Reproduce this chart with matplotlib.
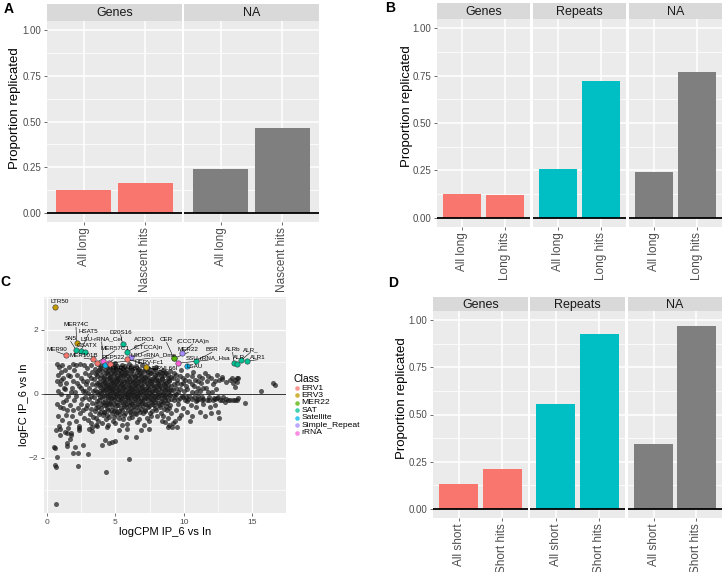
import matplotlib
matplotlib.use("Agg")
import matplotlib.pyplot as plt
from matplotlib.lines import Line2D
import numpy as np

plt.rcParams['font.family'] = ['Liberation Sans', 'DejaVu Sans']

# ---------------- data ----------------
facets_A = ["Genes", "NA"]
labels_A = ["All long", "Nascent hits"]
values_A = {"Genes": [0.126, 0.164], "NA": [0.242, 0.467]}

facets_B = ["Genes", "Repeats", "NA"]
labels_B = ["All long", "Long hits"]
values_B = {"Genes": [0.126, 0.117], "Repeats": [0.255, 0.723], "NA": [0.243, 0.770]}

facets_D = ["Genes", "Repeats", "NA"]
labels_D = ["All short", "Short hits"]
values_D = {"Genes": [0.130, 0.210], "Repeats": [0.556, 0.926], "NA": [0.342, 0.972]}

facet_colors = {"Genes": "#F8766D", "Repeats": "#00BFC4", "NA": "#7F7F7F"}

# scatter (panel C): background repeats (logCPM, logFC)
bg_points = [
    # left sparse region
    (0.7,0.95),(0.9,0.85),(1.1,0.9),(0.8,0.6),(1.0,0.7),(1.3,0.75),(1.6,0.85),(1.9,0.95),(2.1,0.9),(2.4,0.95),(2.7,0.9),
    (0.75,0.4),(0.95,0.3),(1.2,0.5),(1.4,0.35),(1.7,0.55),(1.9,0.4),(2.2,0.6),(2.5,0.5),(2.8,0.65),
    (0.8,0.1),(1.05,0.0),(1.3,0.15),(1.55,-0.05),(1.8,0.2),(2.05,0.05),(2.3,0.25),(2.6,0.1),(2.85,0.3),
    (0.7,-0.3),(0.95,-0.4),(1.2,-0.25),(1.45,-0.5),(1.7,-0.35),(2.0,-0.2),(2.25,-0.45),(2.5,-0.3),(2.75,-0.1),
    (0.8,-0.7),(1.1,-0.8),(1.35,-0.65),(1.6,-0.9),(1.85,-0.7),(2.1,-0.85),(2.4,-0.6),(2.7,-0.75),
    (0.9,-1.0),(1.5,-1.05),(2.3,-1.0),
    (1.0,0.45),(1.25,0.2),(1.5,0.6),(1.75,0.05),(2.0,0.75),(2.2,0.35),(2.45,0.2),(2.65,0.4),(2.55,-0.15),
    (2.15,-0.05),(1.4,-0.2),(1.9,-0.5),(2.6,-0.5),(2.85,-0.45),(2.8,0.1),(1.15,-0.45),
    # lower outliers
    (0.63,-3.44),(0.6,-2.22),(0.62,-2.28),(0.53,-1.65),(0.56,-1.7),(0.75,-1.96),(2.29,-2.25),(1.9,-1.83),
    (2.26,-1.83),(2.07,-1.67),(2.63,-1.61),(2.97,-1.87),(1.44,-1.63),(1.48,-1.52),(1.68,-1.42),(4.28,-2.45),
    (5.96,-2.04),(3.99,-1.58),(4.2,-1.44),(4.53,-1.54),(4.72,-1.5),(4.99,-1.46),(5.74,-1.33),(6.47,-1.33),
    (0.93,-1.27),(0.63,-1.12),(0.95,-1.1),(1.29,-1.18),(1.48,-1.21),(1.78,-1.23),(1.78,-1.28),(2.34,-1.07),
    (2.34,-1.12),(3.07,-1.1),(3.26,-1.02),(3.26,-1.15),(3.55,-0.98),(3.67,-1.0),(4.4,-1.04),(5.26,-1.12),
    (5.5,-0.98),(5.86,-1.1),(6.84,-1.12),(7.08,-0.97),(7.45,-1.1),(8.4,-0.86),(8.6,-0.89),(8.93,-0.97),
    (9.1,-1.04),(9.17,-0.92),(9.34,-0.86),(9.5,-1.02),(8.85,-1.04),
    # dense core
    (2.95,0.82),(3.05,0.58),(2.9,0.41),(3.1,0.18),(2.98,0.04),(3.07,-0.17),(2.93,-0.36),(3.12,-0.62),(3.0,-0.81),
    (3.22,0.91),(3.3,0.68),(3.18,0.49),(3.27,0.31),(3.33,0.08),(3.2,-0.06),(3.28,-0.27),(3.24,-0.46),(3.35,-0.71),(3.21,-0.9),
    (3.48,0.79),(3.55,0.63),(3.44,0.46),(3.58,0.27),(3.5,0.13),(3.42,-0.11),(3.56,-0.32),(3.47,-0.52),(3.6,-0.76),
    (3.72,0.94),(3.8,0.74),(3.68,0.56),(3.77,0.38),(3.84,0.21),(3.7,0.01),(3.79,-0.19),(3.74,-0.41),(3.83,-0.62),(3.71,-0.86),
    (3.96,0.86),(4.05,0.71),(3.92,0.6),(4.1,0.44),(3.98,0.31),(4.07,0.16),(3.94,0.04),(4.03,-0.11),(4.12,-0.26),(3.97,-0.44),(4.06,-0.66),(3.99,-0.92),
    (4.22,0.79),(4.3,0.66),(4.18,0.51),(4.27,0.36),(4.34,0.24),(4.2,0.11),(4.29,-0.04),(4.24,-0.21),(4.33,-0.36),(4.19,-0.56),(4.28,-0.79),
    (4.47,0.91),(4.55,0.74),(4.43,0.61),(4.52,0.49),(4.58,0.41),(4.45,0.29),(4.54,0.19),(4.49,0.09),(4.57,-0.01),(4.44,-0.16),(4.53,-0.31),(4.48,-0.49),(4.56,-0.71),(4.46,-0.96),
    (4.72,0.84),(4.8,0.71),(4.68,0.56),(4.77,0.44),(4.83,0.36),(4.7,0.24),(4.79,0.14),(4.74,0.06),(4.82,-0.09),(4.69,-0.21),(4.78,-0.39),(4.73,-0.61),(4.81,-0.84),
    (4.97,0.96),(5.05,0.79),(4.93,0.66),(5.02,0.51),(5.08,0.39),(4.95,0.31),(5.04,0.21),(4.99,0.09),(5.07,0.01),(4.94,-0.11),(5.03,-0.24),(4.98,-0.46),(5.06,-0.64),(4.96,-0.91),
    (5.22,0.76),(5.3,0.59),(5.18,0.49),(5.27,0.36),(5.33,0.24),(5.2,0.16),(5.29,0.04),(5.24,-0.06),(5.32,-0.19),(5.19,-0.36),(5.28,-0.54),(5.23,-0.76),
    (5.47,0.89),(5.55,0.81),(5.43,0.64),(5.52,0.56),(5.58,0.44),(5.45,0.31),(5.54,0.19),(5.49,0.11),(5.57,-0.01),(5.44,-0.14),(5.53,-0.31),(5.48,-0.51),(5.56,-0.79),
    (5.72,0.86),(5.8,0.69),(5.68,0.61),(5.77,0.46),(5.83,0.34),(5.7,0.26),(5.79,0.11),(5.74,0.01),(5.82,-0.11),(5.69,-0.24),(5.78,-0.41),(5.73,-0.59),(5.81,-0.94),
    (5.97,0.94),(6.05,0.81),(5.93,0.64),(6.02,0.51),(6.08,0.39),(5.95,0.29),(6.04,0.21),(5.99,0.09),(6.07,-0.01),(5.94,-0.09),(6.03,-0.21),(5.98,-0.34),(6.06,-0.56),(5.96,-0.74),
    (6.22,0.74),(6.3,0.61),(6.18,0.44),(6.27,0.36),(6.33,0.24),(6.2,0.14),(6.29,0.06),(6.24,-0.06),(6.32,-0.14),(6.19,-0.31),(6.28,-0.49),(6.23,-0.71),
    (6.47,0.86),(6.55,0.69),(6.43,0.56),(6.52,0.44),(6.58,0.31),(6.45,0.19),(6.54,0.11),(6.49,0.01),(6.57,-0.11),(6.44,-0.24),(6.53,-0.41),(6.48,-0.64),(6.56,-0.89),
    (6.72,0.79),(6.8,0.66),(6.68,0.51),(6.77,0.39),(6.83,0.29),(6.7,0.16),(6.79,0.04),(6.74,-0.04),(6.82,-0.21),(6.69,-0.34),(6.78,-0.56),(6.73,-0.79),
    (6.97,0.91),(7.05,0.71),(6.93,0.59),(7.02,0.46),(7.08,0.34),(6.95,0.24),(7.04,0.11),(6.99,0.01),(7.07,-0.09),(6.94,-0.21),(7.03,-0.39),(6.98,-0.61),
    (7.22,0.76),(7.3,0.59),(7.18,0.49),(7.27,0.34),(7.33,0.21),(7.2,0.09),(7.29,-0.06),(7.24,-0.14),(7.32,-0.31),(7.19,-0.49),(7.28,-0.76),
    (7.47,0.79),(7.55,0.64),(7.43,0.51),(7.52,0.39),(7.58,0.26),(7.45,0.14),(7.54,0.04),(7.49,-0.09),(7.57,-0.26),(7.44,-0.39),(7.53,-0.61),(7.48,-0.86),
    (7.72,0.71),(7.8,0.54),(7.68,0.41),(7.77,0.29),(7.83,0.19),(7.7,0.06),(7.79,-0.06),(7.74,-0.19),(7.82,-0.36),(7.69,-0.54),
    (7.97,0.84),(8.05,0.66),(7.93,0.49),(8.02,0.36),(8.08,0.24),(7.95,0.11),(8.04,-0.01),(7.99,-0.16),(8.07,-0.29),(7.94,-0.51),(8.03,-0.69),
    (8.22,0.69),(8.3,0.56),(8.18,0.39),(8.27,0.26),(8.33,0.09),(8.2,-0.04),(8.29,-0.21),(8.24,-0.41),(8.32,-0.59),
    (8.47,0.76),(8.55,0.59),(8.43,0.46),(8.52,0.31),(8.58,0.14),(8.45,0.04),(8.54,-0.11),(8.49,-0.24),(8.57,-0.46),(8.44,-0.69),
    (8.72,0.64),(8.8,0.51),(8.68,0.34),(8.77,0.19),(8.83,0.06),(8.7,-0.09),(8.79,-0.29),(8.74,-0.49),(8.82,-0.74),
    (8.97,0.71),(9.05,0.54),(8.93,0.39),(9.02,0.24),(9.08,0.11),(8.95,-0.04),(9.04,-0.16),(8.99,-0.36),(9.07,-0.61),
    # core, second layer
    (3.62,0.7),(3.65,0.35),(3.63,0.05),(3.66,-0.22),(3.61,-0.45),
    (3.88,0.82),(3.9,0.5),(3.86,0.28),(3.89,0.1),(3.87,-0.08),(3.91,-0.3),(3.85,-0.55),
    (4.14,0.9),(4.15,0.57),(4.13,0.38),(4.16,0.22),(4.11,0.08),(4.15,-0.06),(4.14,-0.35),(4.13,-0.55),
    (4.38,0.84),(4.4,0.7),(4.37,0.46),(4.41,0.32),(4.36,0.17),(4.39,0.02),(4.42,-0.1),(4.38,-0.28),(4.4,-0.45),(4.37,-0.65),
    (4.62,0.8),(4.65,0.66),(4.61,0.52),(4.64,0.34),(4.63,0.22),(4.66,0.12),(4.6,-0.05),(4.64,-0.14),(4.62,-0.27),(4.65,-0.5),
    (4.87,0.9),(4.89,0.76),(4.86,0.62),(4.9,0.48),(4.88,0.3),(4.85,0.18),(4.91,0.02),(4.87,-0.16),(4.89,-0.3),(4.86,-0.52),(4.9,-0.72),
    (5.12,0.86),(5.15,0.7),(5.11,0.56),(5.14,0.44),(5.13,0.27),(5.16,0.13),(5.12,-0.02),(5.15,-0.15),(5.11,-0.33),(5.14,-0.55),
    (5.37,0.84),(5.39,0.68),(5.36,0.53),(5.4,0.4),(5.38,0.28),(5.35,0.08),(5.41,-0.1),(5.37,-0.26),(5.39,-0.44),(5.36,-0.64),
    (5.62,0.75),(5.64,0.6),(5.61,0.38),(5.65,0.22),(5.63,0.05),(5.6,-0.07),(5.66,-0.2),(5.62,-0.38),(5.64,-0.66),
    (5.87,0.78),(5.89,0.55),(5.86,0.4),(5.9,0.19),(5.88,0.06),(5.85,-0.04),(5.91,-0.17),(5.87,-0.32),(5.89,-0.5),
    (6.12,0.88),(6.14,0.72),(6.11,0.56),(6.15,0.32),(6.13,0.16),(6.1,0.03),(6.16,-0.13),(6.12,-0.27),(6.14,-0.44),(6.11,-0.63),
    (6.37,0.8),(6.39,0.52),(6.36,0.4),(6.4,0.27),(6.38,0.09),(6.35,-0.02),(6.41,-0.2),(6.37,-0.37),(6.39,-0.58),
    (6.62,0.75),(6.64,0.6),(6.61,0.37),(6.65,0.24),(6.63,0.07),(6.6,-0.07),(6.66,-0.17),(6.62,-0.32),(6.64,-0.5),
    (6.87,0.72),(6.89,0.56),(6.86,0.44),(6.9,0.2),(6.88,0.08),(6.85,-0.12),(6.91,-0.27),(6.87,-0.46),
    (7.12,0.8),(7.14,0.54),(7.11,0.4),(7.15,0.17),(7.13,0.04),(7.1,-0.16),(7.16,-0.3),(7.12,-0.52),
    (7.37,0.7),(7.39,0.44),(7.36,0.28),(7.4,0.12),(7.38,-0.02),(7.35,-0.2),(7.41,-0.42),
    (7.62,0.66),(7.64,0.47),(7.61,0.33),(7.65,0.1),(7.63,-0.02),(7.6,-0.15),(7.66,-0.32),(7.62,-0.7),
    (7.87,0.77),(7.89,0.6),(7.86,0.45),(7.9,0.24),(7.88,0.13),(7.85,-0.1),(7.91,-0.25),(7.87,-0.44),
    (8.12,0.62),(8.14,0.44),(8.11,0.3),(8.15,0.17),(8.13,0.02),(8.1,-0.1),(8.16,-0.36),
    (8.37,0.64),(8.39,0.5),(8.36,0.33),(8.4,0.2),(8.38,-0.02),(8.35,-0.14),(8.41,-0.32),
    (8.62,0.68),(8.64,0.4),(8.61,0.24),(8.65,0.1),(8.63,-0.04),(8.6,-0.18),(8.66,-0.38),
    (8.87,0.58),(8.89,0.44),(8.86,0.28),(8.9,0.13),(8.88,-0.02),(8.85,-0.2),(8.91,-0.45),
    # right region
    (9.3,0.65),(9.5,0.45),(9.4,0.2),(9.6,0.05),(9.35,-0.1),(9.55,-0.3),(9.45,-0.5),(9.65,-0.75),
    (9.8,0.75),(9.9,0.5),(9.75,0.3),(10.0,0.1),(9.85,-0.05),(10.05,-0.2),(9.95,-0.45),(9.8,-0.65),
    (10.2,0.6),(10.35,0.4),(10.25,0.15),(10.4,-0.05),(10.3,-0.15),(10.5,-0.35),(10.2,-0.55),(10.45,-0.85),
    (10.65,0.7),(10.8,0.45),(10.7,0.25),(10.9,0.05),(10.75,-0.1),(10.95,-0.2),(10.85,-0.4),(10.6,-0.7),
    (11.1,0.55),(11.25,0.35),(11.15,0.1),(11.3,-0.08),(11.05,-0.15),(11.4,-0.3),(11.2,-0.55),
    (11.55,0.65),(11.7,0.4),(11.6,0.2),(11.8,-0.1),(11.65,-0.18),(11.9,-0.4),(11.5,-0.7),
    (12.0,0.5),(12.15,0.3),(12.05,0.05),(12.2,-0.12),(12.1,-0.2),(12.3,-0.35),(11.95,-0.6),
    (12.4,0.6),(12.55,0.45),(12.5,-0.55),(12.58,-0.75),(12.45,-0.1),(12.6,-0.18),
    (9.2,0.5),(9.25,0.3),(9.22,0.12),(9.28,-0.02),(9.24,-0.2),(9.45,0.6),(9.48,0.35),(9.42,0.0),(9.7,0.55),
    (9.68,0.15),(9.72,-0.12),(9.92,0.35),(9.95,-0.08),(10.1,0.45),(10.15,0.25),(10.12,-0.1),(10.55,0.55),
    (10.6,0.3),(10.58,0.05),(10.62,-0.15),(11.0,0.4),(11.0,0.2),(11.02,-0.05),(11.35,0.5),(11.4,0.2),
    (11.38,-0.15),(11.75,0.55),(11.75,0.05),(11.85,-0.2),(12.25,0.4),(12.3,-0.15),(12.35,0.15),(11.3,-0.2),
    (10.9,-0.22),(10.25,-0.22),(9.6,-0.18),
    (12.75,0.54),(12.8,0.46),(13.1,0.38),(13.36,0.44),(13.48,0.49),(13.6,0.33),(13.72,0.44),(13.85,0.49),
    (13.96,0.49),(13.85,0.38),(13.72,0.23),
    (12.39,-0.14),(12.75,-0.19),(12.87,-0.08),(12.99,-0.24),(13.23,-0.2),(13.36,-0.18),(13.6,-0.19),
    (13.72,-0.18),(13.85,-0.2),(13.96,-0.14),(14.45,-0.27),(13.1,-0.15),
    (15.6,0.09),(16.52,0.35),(16.64,0.28),
]
bg_logcpm = [p[0] for p in bg_points]
bg_logfc = [p[1] for p in bg_points]

# highlighted repeats: name, class, logCPM, logFC, label position
hl_names = ["LTR50", "MER74C", "HSAT5", "SN5", "GSATX", "MER90", "LSU-rRNA_Cel", "MER101B",
            "MER57C1", "REP522", "LSU-rRNA_Dme", "D20S16", "ACRO1", "(CTCCA)n", "HERV-Fc1",
            "HERV-Fc2", "HERVL66I", "CER", "(CCCTAA)n", "MER22", "SSU-rRNA_Hsa", "BSR", "LSAU",
            "ALRb", "ALR", "ALR_", "ALR1"]
hl_class = ["ERV3", "ERV3", "SAT", "SAT", "SAT", "ERV1", "rRNA", "ERV1",
            "ERV1", "Satellite", "rRNA", "SAT", "SAT", "Simple_Repeat", "ERV1",
            "ERV1", "ERV3", "MER22", "Simple_Repeat", "MER22", "rRNA", "SAT", "Satellite",
            "SAT", "SAT", "SAT", "SAT"]
hl_logcpm = [0.58, 2.16, 2.46, 2.12, 2.8, 1.36, 4.11, 3.38,
             3.62, 4.26, 4.53, 5.52, 5.86, 6.1, 5.86,
             4.62, 7.23, 9.27, 9.85, 9.27, 9.54, 10.85, 10.2,
             13.67, 13.84, 14.2, 14.6]
hl_logfc = [2.71, 1.58, 1.34, 1.38, 1.32, 1.22, 1.04, 1.08,
            0.98, 0.91, 0.96, 1.56, 1.32, 1.15, 1.08,
            0.93, 0.85, 1.11, 1.27, 1.11, 0.96, 1.03, 0.88,
            0.96, 0.93, 1.06, 1.03]
hl_lab_x = [0.9, 2.12, 3.02, 1.73, 2.94, 0.71, 3.99, 2.7,
            4.96, 4.84, 7.76, 5.38, 7.15, 7.4, 7.47,
            5.69, 8.49, 8.73, 10.63, 10.32, 11.78, 12.04, 10.8,
            13.55, 14.05, 14.85, 15.4]
hl_lab_y = [2.88, 2.16, 1.95, 1.72, 1.5, 1.4, 1.71, 1.2,
            1.43, 1.15, 1.21, 1.93, 1.69, 1.45, 0.99,
            0.78, 0.78, 1.69, 1.64, 1.38, 1.14, 1.38, 0.85,
            1.38, 1.14, 1.38, 1.15]

class_names = ["ERV1", "ERV3", "MER22", "SAT", "Satellite", "Simple_Repeat", "rRNA"]
class_colors = ["#F8766D", "#C49A00", "#53B400", "#00C094", "#00B6EB", "#A58AFF", "#FB61D7"]

# ---------------- figure ----------------
W, H = 723, 572
fig = plt.figure(figsize=(W / 100, H / 100), dpi=100)
fig.patch.set_facecolor("white")

def add_ax(x0, y0, x1, y1):
    return fig.add_axes([x0 / W, 1 - y1 / H, (x1 - x0) / W, (y1 - y0) / H])

BG = "#EBEBEB"
STRIP = "#D9D9D9"
TICKC = "#333333"
LABC = "#4D4D4D"

def bar_panel(facets, xlabels, values, xs, strip_y0, strip_y1, plot_y1, ylab_x, ylab_y):
    for i, (f, (x0, x1)) in enumerate(zip(facets, xs)):
        ax = add_ax(x0, strip_y1, x1, plot_y1)
        ax.set_facecolor(BG)
        ax.set_axisbelow(True)
        pos = np.arange(1, len(xlabels) + 1)
        ax.bar(pos, values[f], width=0.9, color=facet_colors[f], zorder=2)
        ax.axhline(0, color="black", lw=1.3, zorder=3)
        ax.set_xlim(0.4, len(xlabels) + 0.6)
        ax.set_ylim(-0.05, 1.05)
        ax.set_yticks([0, 0.25, 0.5, 0.75, 1.0])
        ax.set_yticks([0.125, 0.375, 0.625, 0.875], minor=True)
        ax.set_xticks(pos)
        ax.set_xticklabels(xlabels, rotation=90, fontsize=8.5, color=LABC)
        ax.grid(which="major", color="white", lw=1.1)
        ax.grid(which="minor", axis="y", color="white", lw=0.55)
        for s in ax.spines.values():
            s.set_visible(False)
        ax.tick_params(axis="both", which="major", length=2.5, width=0.5, color=TICKC, pad=1.5)
        ax.tick_params(axis="y", which="minor", length=0)
        if i == 0:
            ax.set_yticklabels(["0.00", "0.25", "0.50", "0.75", "1.00"], fontsize=7, color=LABC)
        else:
            ax.tick_params(axis="y", which="major", length=0, labelleft=False)
        sax = add_ax(x0, strip_y0, x1, strip_y1)
        sax.set_facecolor(STRIP)
        sax.set_xticks([]); sax.set_yticks([])
        for s in sax.spines.values():
            s.set_visible(False)
        sax.text(0.5, 0.45, f, transform=sax.transAxes, ha="center", va="center",
                 fontsize=9, color="#1A1A1A")
    fig.text(ylab_x / W, 1 - ylab_y / H, "Proportion replicated", rotation=90,
             ha="center", va="center", fontsize=9.5, color="black")

# Panel A
bar_panel(facets_A, labels_A, values_A, [(47, 182), (184, 319)], 4, 21, 222, 15, 108)
# Panel B
bar_panel(facets_B, labels_B, values_B, [(437, 530), (533, 626), (629, 722)], 3, 19, 227, 407, 106)
# Panel D
bar_panel(facets_D, labels_D, values_D, [(433, 528), (530, 625), (628, 722)], 297, 311, 518, 402, 398)

# Panel C
ax = add_ax(44, 297, 286, 513)
ax.set_facecolor(BG)
ax.set_axisbelow(True)
ax.set_xlim(-0.22, 17.45)
ax.set_ylim(-3.72, 3.03)
ax.set_xticks([0, 5, 10, 15])
ax.set_xticks([2.5, 7.5, 12.5], minor=True)
ax.set_yticks([-2, 0, 2])
ax.set_yticks([-3, -1, 1, 3], minor=True)
ax.grid(which="major", color="white", lw=0.9)
ax.grid(which="minor", color="white", lw=0.45)
for s in ax.spines.values():
    s.set_visible(False)
ax.tick_params(axis="both", which="major", length=2.5, width=0.5, color=TICKC, pad=1.5,
               labelsize=6, labelcolor=LABC)
ax.tick_params(which="minor", length=0)
ax.axhline(0, color="#333333", lw=0.7, zorder=1.5)
ax.scatter(bg_logcpm, bg_logfc, s=13, color="#1a1a1a", alpha=0.7, linewidths=0, zorder=2)

cmap = dict(zip(class_names, class_colors))
for name, cl, x, y, lx, ly in zip(hl_names, hl_class, hl_logcpm, hl_logfc, hl_lab_x, hl_lab_y):
    dxp = (lx - x) * 13.7
    dyp = (ly - y) * 32
    if (dxp ** 2 + dyp ** 2) ** 0.5 > 9:
        ax.plot([x, lx], [y, ly - 0.08], color="black", lw=0.4, zorder=3)
    ax.scatter([x], [y], s=15, color=cmap[cl], edgecolors="#3a3a3a", linewidths=0.4, zorder=4)
    ax.text(lx, ly, name, fontsize=4.5, ha="center", va="center", color="black", zorder=5)

ax.set_xlabel("logCPM IP_6 vs In", fontsize=8, labelpad=1)
fig.text(24 / W, 1 - 405 / H, "logFC IP_6 vs In", rotation=90, ha="center", va="center", fontsize=8)

# Legend for panel C
fig.text(293 / W, 1 - 379.5 / H, "Class", ha="left", va="center", fontsize=7.5)
leg_y = [388, 395.3, 402.7, 410, 417.7, 425.3, 432.7]
for nm, col, yy in zip(class_names, class_colors, leg_y):
    fig.add_artist(Line2D([296.7 / W], [1 - yy / H], transform=fig.transFigure, marker="o",
                          markersize=3.3, color=col, alpha=0.75, markeredgewidth=0, linestyle="None"))
    fig.text(301.5 / W, 1 - yy / H, nm, ha="left", va="center", fontsize=6.1)

# Panel letters
for letter, x, y in [("A", 4, 9), ("B", 385, 8), ("C", 0, 282), ("D", 388, 283)]:
    fig.text(x / W, 1 - y / H, letter, ha="left", va="center", fontsize=10, fontweight="bold")

fig.savefig("out.png", dpi=100, facecolor="white")
